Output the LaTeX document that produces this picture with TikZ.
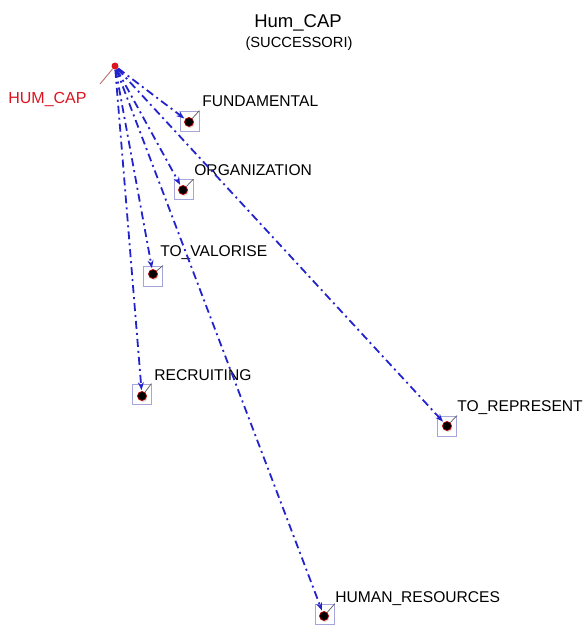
\documentclass[tikz,border=0pt]{standalone}
\usepackage{fontspec}
\setmainfont{Liberation Sans}
\usetikzlibrary{arrows.meta,shadows}
\definecolor{edgeblue}{RGB}{35,35,205}
\definecolor{boxline}{RGB}{165,165,220}
\definecolor{rootred}{RGB}{220,20,30}
\definecolor{leadred}{RGB}{190,110,110}

\begin{document}
\begin{tikzpicture}[x=1pt, y=-1pt, line width=0.7pt,
    every node/.style={font=\fontsize{15.6}{18}\selectfont},
    succ/.style={edgeblue, line width=1.8pt, dash pattern=on 8pt off 4pt on 2pt off 4pt,
      -{Stealth[length=8pt,width=6pt]}, shorten >=1pt},
    leafbox/.style={draw=boxline, line width=0.9pt, minimum width=19pt, minimum height=20pt, inner sep=0pt},
    leafdot/.style={circle, fill=black, draw=red!75!black, line width=0.7pt, minimum size=9pt, inner sep=0pt,
      drop shadow={shadow xshift=1pt, shadow yshift=-1.5pt, opacity=0.3}},
    leaflbl/.style={anchor=base west, inner sep=0pt},
    leadline/.style={gray!70!black, line width=0.7pt}]
  \useasboundingbox (0,0) rectangle (583,627);

  \node[anchor=base, font=\fontsize{18.5}{22}\selectfont] (title) at (298,27) {Hum\_CAP};
  \node[anchor=base, font=\fontsize{14.7}{17}\selectfont] (subtitle) at (299,47) {(SUCCESSORI)};

  \node[circle, fill=rootred, minimum size=7pt, inner sep=0pt] (hum) at (115,66) {};
  \node[leaflbl, rootred, font=\fontsize{16}{19}\selectfont] (humlbl) at (8,103) {HUM\_CAP};
  \coordinate (humlead) at (100,84);
  \draw[leadred, line width=0.9pt] (humlead) -- (hum);

  \node[leafbox] (fundbox) at (189.5,121) {};
  \node[leafbox] (orgbox) at (183.5,189.5) {};
  \node[leafbox] (valbox) at (153,276) {};
  \node[leafbox] (recbox) at (141.5,394) {};
  \node[leafbox] (repbox) at (447,426) {};
  \node[leafbox] (hrbox) at (325,614) {};

  \node[leafdot] (fund) at (189,122) {};
  \node[leafdot] (org) at (183,190) {};
  \node[leafdot] (val) at (153,274) {};
  \node[leafdot] (rec) at (142,396) {};
  \node[leafdot] (rep) at (447,426) {};
  \node[leafdot] (hr) at (324,616) {};

  \draw[leadline] (fund) -- (fundbox.north east);
  \draw[leadline] (org) -- (orgbox.north east);
  \draw[leadline] (val) -- (valbox.north east);
  \draw[leadline] (rec) -- (recbox.north east);
  \draw[leadline] (rep) -- (repbox.north east);
  \draw[leadline] (hr) -- (hrbox.north east);

  \node[leaflbl] (fundlbl) at (202,106) {FUNDAMENTAL};
  \node[leaflbl] (orglbl) at (194,175) {ORGANIZATION};
  \node[leaflbl] (vallbl) at (160,256) {TO\_VALORISE};
  \node[leaflbl] (reclbl) at (154,380) {RECRUITING};
  \node[leaflbl] (replbl) at (457,411) {TO\_REPRESENT};
  \node[leaflbl] (hrlbl) at (335,602) {HUMAN\_RESOURCES};

  \draw[succ] (hum) -- (fund);
  \draw[succ] (hum) -- (org);
  \draw[succ] (hum) -- (val);
  \draw[succ] (hum) -- (rec);
  \draw[succ] (hum) -- (rep);
  \draw[succ] (hum) -- (hr);
\end{tikzpicture}
\end{document}
